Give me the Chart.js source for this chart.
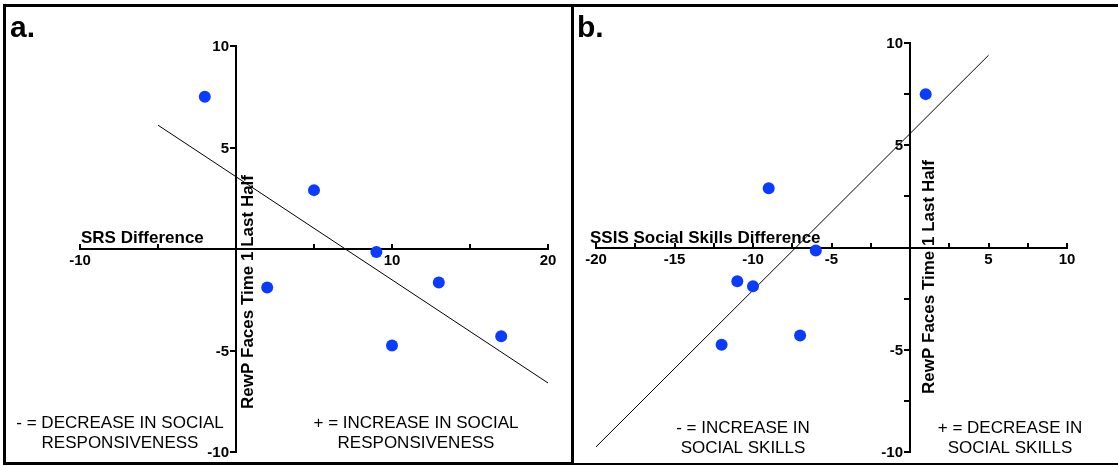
<!DOCTYPE html>
<html>
<head>
<meta charset="utf-8">
<script src="https://cdn.jsdelivr.net/npm/chart.js@4"></script>
<style>
  body { margin: 0; background: #fff; }
  #wrap { position: relative; width: 1118px; height: 466px; overflow: hidden; background: #fff; }
  .box { position: absolute; box-sizing: border-box; border: 0 solid #000; }
  #boxA { left: 3px; top: 4px; width: 568px; height: 461px; border-width: 3px 0 3px 3px; }
  #boxB { left: 571px; top: 4px; width: 560px; height: 461px; border-width: 3px 0 2px 3px; }
  canvas { position: absolute; top: 0; }
  #chartA { left: 0; }
  #chartB { left: 575px; }
</style>
</head>
<body>
<div id="wrap">
  <div class="box" id="boxA"></div>
  <div class="box" id="boxB"></div>
  <canvas id="chartA" width="570" height="466"></canvas>
  <canvas id="chartB" width="543" height="466"></canvas>
</div>
<script>
// panel a: SRS difference vs RewP
const srsDiff = [-2, 5, 2, 9, 13, 10, 17];
const rewpA = [7.5, 2.9, -1.9, -0.15, -1.65, -4.75, -4.3];
const fitAX = [-5, 20];
const fitAY = [6.1, -6.6];
const xLabelsA = [-10, 10, 20];

// panel b: SSIS social skills difference vs RewP
const ssisDiff = [1, -9, -6, -11, -10, -7, -12];
const rewpB = [7.5, 2.9, -0.15, -1.65, -1.9, -4.3, -4.75];
const fitBX = [-20, 5];
const fitBY = [-9.75, 9.4];
const xLabelsB = [-20, -15, -10, -5, 5, 10];

const yLabels = [-10, -5, 5, 10];

const FONT = "'Liberation Sans', Arial, sans-serif";
const DOT = '#0a3cff';

// free text drawn straight on the canvas
const textPlugin = {
  id: 'panelText',
  afterDraw(chart, args, opts) {
    const ctx = chart.ctx;
    ctx.save();
    ctx.fillStyle = '#000';
    for (const t of opts.items) {
      ctx.save();
      ctx.font = t.font;
      ctx.textAlign = t.align || 'left';
      ctx.textBaseline = 'alphabetic';
      ctx.translate(t.x, t.y);
      if (t.rotate) ctx.rotate(-Math.PI / 2);
      ctx.fillText(t.text, 0, 0);
      ctx.restore();
    }
    ctx.restore();
  }
};

// x ticks point up from the axis; tick labels placed next to the crossing axes
const axisMarks = {
  id: 'axisMarks',
  afterDraw(chart, args, opts) {
    const xs = chart.scales.x, ys = chart.scales.y;
    const y0 = Math.round(ys.getPixelForValue(0));
    const x0 = Math.round(xs.getPixelForValue(0));
    const ctx = chart.ctx;
    ctx.save();
    ctx.strokeStyle = '#000';
    ctx.lineWidth = 2;
    ctx.beginPath();
    xs.ticks.forEach(t => {
      const px = Math.round(xs.getPixelForValue(t.value));
      ctx.moveTo(px, y0);
      ctx.lineTo(px, y0 - 5);
    });
    ctx.stroke();
    ctx.fillStyle = '#000';
    ctx.font = "bold 15px " + FONT;
    ctx.textAlign = 'right';
    ctx.textBaseline = 'middle';
    yLabels.forEach(v => {
      ctx.fillText(String(v), x0 - 7, ys.getPixelForValue(v) + 1);
    });
    ctx.textAlign = 'center';
    ctx.textBaseline = 'alphabetic';
    opts.xLabels.forEach(v => {
      ctx.fillText(String(v), xs.getPixelForValue(v), y0 + 16);
    });
    ctx.restore();
  }
};

const bold17 = "bold 17px " + FONT;
const reg17 = "17px " + FONT;
const bold30 = "bold 30px " + FONT;

function makeChart(id, xs, ys, fx, fy, xmin, xmax, xstep, ystep, xLabels, pad, texts) {
  new Chart(document.getElementById(id), {
    type: 'scatter',
    data: {
      datasets: [
        {
          data: xs.map((x, i) => ({ x: x, y: ys[i] })),
          backgroundColor: DOT,
          borderWidth: 0,
          pointRadius: 6,
          clip: false
        },
        {
          data: fx.map((x, i) => ({ x: x, y: fy[i] })),
          showLine: true,
          borderColor: '#000',
          borderWidth: 1,
          pointRadius: 0,
          clip: false
        }
      ]
    },
    options: {
      responsive: false,
      devicePixelRatio: 1,
      animation: false,
      layout: { padding: pad },
      plugins: {
        legend: { display: false },
        tooltip: { enabled: false },
        panelText: { items: texts },
        axisMarks: { xLabels: xLabels }
      },
      scales: {
        x: {
          type: 'linear',
          min: xmin,
          max: xmax,
          position: { y: 0 },
          ticks: { stepSize: xstep, autoSkip: false, display: false },
          grid: { drawOnChartArea: false, drawTicks: false },
          border: { color: '#000', width: 2 }
        },
        y: {
          type: 'linear',
          min: -10,
          max: 10,
          position: { x: 0 },
          ticks: { stepSize: ystep, autoSkip: false, display: false },
          grid: { drawOnChartArea: false, drawTicks: true, tickLength: 5, color: '#000', lineWidth: 2 },
          border: { color: '#000', width: 2 }
        }
      }
    },
    plugins: [axisMarks, textPlugin]
  });
}

makeChart('chartA', srsDiff, rewpA, fitAX, fitAY, -10, 20, 5, 5, xLabelsA,
  { left: 80, right: 22, top: 46, bottom: 14 },
  [
    { text: 'a.', x: 10, y: 37, font: bold30 },
    { text: 'SRS Difference', x: 81, y: 243, font: bold17 },
    { text: 'RewP Faces Time 1 Last Half', x: 253, y: 292, font: bold17, align: 'center', rotate: true },
    { text: '- = DECREASE IN SOCIAL', x: 120, y: 428, font: reg17, align: 'center' },
    { text: 'RESPONSIVENESS', x: 120, y: 448, font: reg17, align: 'center' },
    { text: '+ = INCREASE IN SOCIAL', x: 416, y: 428, font: reg17, align: 'center' },
    { text: 'RESPONSIVENESS', x: 416, y: 448, font: reg17, align: 'center' }
  ]);

makeChart('chartB', ssisDiff, rewpB, fitBX, fitBY, -20, 10, 2.5, 2.5, xLabelsB,
  { left: 21, right: 51, top: 43, bottom: 14 },
  [
    { text: 'b.', x: 2, y: 37, font: bold30 },
    { text: 'SSIS Social Skills Difference', x: 15, y: 243, font: bold17 },
    { text: 'RewP Faces Time 1 Last Half', x: 359, y: 277, font: bold17, align: 'center', rotate: true },
    { text: '- = INCREASE IN', x: 168, y: 433, font: reg17, align: 'center' },
    { text: 'SOCIAL SKILLS', x: 168, y: 453, font: reg17, align: 'center' },
    { text: '+ = DECREASE IN', x: 435, y: 433, font: reg17, align: 'center' },
    { text: 'SOCIAL SKILLS', x: 435, y: 453, font: reg17, align: 'center' }
  ]);
</script>
</body>
</html>
